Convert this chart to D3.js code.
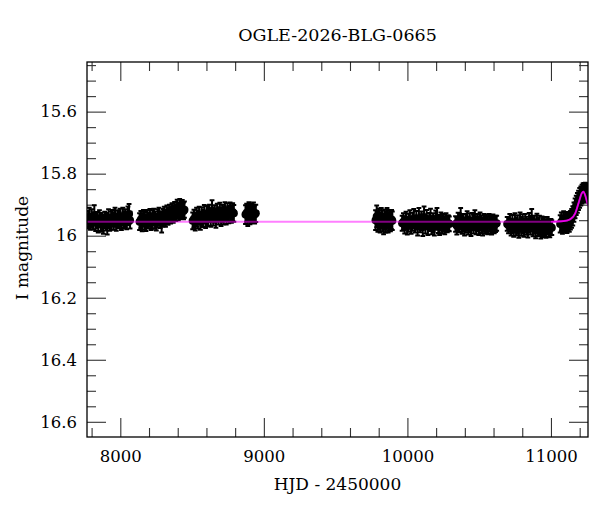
<!DOCTYPE html>
<html>
<head>
<meta charset="utf-8">
<script src="https://cdn.jsdelivr.net/npm/d3@7"></script>
<style>
  body { margin: 0; background: #fff; }
  text { font-family: "DejaVu Serif", serif; fill: #000; }
</style>
</head>
<body>
<div id="chart"></div>
<script>
// OGLE photometry, one array per observing season: [HJD - 2450000, I mag, error]
const season1 = [
  [7776, 15.948, 0.028], [7784, 15.940, 0.030], [7792, 15.955, 0.026], [7801, 15.944, 0.029],
  [7810, 15.952, 0.027], [7819, 15.934, 0.032], [7828, 15.958, 0.027], [7837, 15.950, 0.026],
  [7846, 15.962, 0.028], [7855, 15.945, 0.027], [7864, 15.956, 0.029], [7873, 15.960, 0.027],
  [7882, 15.964, 0.030], [7891, 15.949, 0.026], [7900, 15.955, 0.028], [7909, 15.966, 0.030],
  [7918, 15.942, 0.027], [7927, 15.958, 0.026], [7936, 15.951, 0.029], [7945, 15.944, 0.027],
  [7954, 15.953, 0.028], [7963, 15.940, 0.030], [7972, 15.957, 0.027], [7981, 15.946, 0.028],
  [7990, 15.950, 0.026], [7999, 15.942, 0.029], [8008, 15.955, 0.027], [8017, 15.938, 0.028],
  [8026, 15.948, 0.027], [8035, 15.944, 0.029], [8044, 15.952, 0.027], [8053, 15.936, 0.030],
  [8061, 15.930, 0.032], [8068, 15.950, 0.027]
];
const season2 = [
  [8134, 15.955, 0.027], [8143, 15.948, 0.028], [8152, 15.957, 0.029], [8161, 15.944, 0.027],
  [8170, 15.952, 0.028], [8179, 15.958, 0.027], [8188, 15.946, 0.029], [8197, 15.951, 0.026],
  [8206, 15.942, 0.028], [8215, 15.955, 0.027], [8224, 15.947, 0.029], [8233, 15.940, 0.027],
  [8242, 15.950, 0.028], [8251, 15.956, 0.027], [8260, 15.944, 0.029], [8269, 15.938, 0.028],
  [8278, 15.948, 0.027], [8288, 15.958, 0.032], [8297, 15.942, 0.028], [8306, 15.936, 0.029],
  [8315, 15.944, 0.027], [8324, 15.932, 0.029], [8333, 15.938, 0.027], [8342, 15.928, 0.028],
  [8351, 15.934, 0.027], [8360, 15.924, 0.029], [8369, 15.930, 0.028], [8378, 15.920, 0.029],
  [8387, 15.926, 0.027], [8396, 15.914, 0.030], [8405, 15.922, 0.028], [8414, 15.912, 0.030],
  [8423, 15.918, 0.028], [8432, 15.914, 0.029], [8441, 15.920, 0.027], [8447, 15.916, 0.026]
];
const season3 = [
  [8504, 15.952, 0.027], [8513, 15.945, 0.029], [8522, 15.955, 0.028], [8531, 15.940, 0.030],
  [8540, 15.948, 0.029], [8549, 15.935, 0.028], [8558, 15.952, 0.029], [8567, 15.938, 0.030],
  [8576, 15.944, 0.028], [8585, 15.930, 0.029], [8594, 15.947, 0.028], [8603, 15.934, 0.030],
  [8612, 15.940, 0.029], [8621, 15.928, 0.028], [8630, 15.942, 0.029], [8639, 15.920, 0.034],
  [8648, 15.938, 0.029], [8657, 15.930, 0.028], [8666, 15.944, 0.030], [8675, 15.926, 0.029],
  [8684, 15.936, 0.028], [8693, 15.924, 0.030], [8702, 15.940, 0.029], [8711, 15.928, 0.028],
  [8720, 15.934, 0.029], [8729, 15.922, 0.030], [8738, 15.936, 0.028], [8747, 15.924, 0.029],
  [8756, 15.932, 0.028], [8765, 15.922, 0.029], [8774, 15.930, 0.028], [8783, 15.924, 0.029],
  [8791, 15.928, 0.027]
];
const season4 = [
  [8872, 15.932, 0.030], [8880, 15.926, 0.029], [8888, 15.936, 0.033], [8896, 15.922, 0.030],
  [8904, 15.934, 0.029], [8912, 15.928, 0.030], [8920, 15.930, 0.029], [8928, 15.924, 0.031],
  [8936, 15.932, 0.029], [8944, 15.928, 0.028]
];
const season5 = [
  [9778, 15.950, 0.032], [9786, 15.938, 0.035], [9794, 15.955, 0.032], [9802, 15.946, 0.034],
  [9810, 15.958, 0.032], [9818, 15.944, 0.033], [9826, 15.952, 0.034], [9834, 15.962, 0.033],
  [9842, 15.948, 0.032], [9850, 15.956, 0.034], [9858, 15.944, 0.033], [9866, 15.958, 0.032],
  [9874, 15.950, 0.033], [9882, 15.954, 0.032], [9890, 15.948, 0.031], [9895, 15.952, 0.030]
];
const season6 = [
  [9963, 15.960, 0.024], [9972, 15.955, 0.027], [9981, 15.965, 0.028], [9990, 15.952, 0.029],
  [9999, 15.968, 0.028], [10008, 15.958, 0.029], [10017, 15.948, 0.030], [10026, 15.966, 0.028],
  [10035, 15.955, 0.029], [10044, 15.945, 0.031], [10053, 15.962, 0.028], [10062, 15.950, 0.030],
  [10071, 15.970, 0.029], [10080, 15.944, 0.033], [10089, 15.960, 0.029], [10098, 15.952, 0.030],
  [10107, 15.972, 0.029], [10116, 15.940, 0.034], [10125, 15.964, 0.029], [10134, 15.948, 0.031],
  [10143, 15.968, 0.030], [10152, 15.956, 0.029], [10161, 15.946, 0.033], [10170, 15.966, 0.029],
  [10179, 15.958, 0.030], [10188, 15.970, 0.029], [10197, 15.950, 0.031], [10206, 15.944, 0.033],
  [10215, 15.962, 0.029], [10224, 15.968, 0.030], [10233, 15.954, 0.029], [10242, 15.962, 0.030],
  [10251, 15.958, 0.028], [10260, 15.966, 0.029], [10269, 15.956, 0.028], [10278, 15.962, 0.027],
  [10287, 15.960, 0.025], [10292, 15.962, 0.024]
];
const season7 = [
  [10335, 15.962, 0.025], [10344, 15.968, 0.028], [10353, 15.955, 0.029], [10362, 15.958, 0.030],
  [10371, 15.945, 0.034], [10380, 15.965, 0.029], [10389, 15.958, 0.028], [10398, 15.970, 0.029],
  [10407, 15.960, 0.030], [10416, 15.952, 0.031], [10425, 15.967, 0.029], [10434, 15.958, 0.030],
  [10443, 15.972, 0.029], [10452, 15.955, 0.028], [10461, 15.962, 0.031], [10470, 15.950, 0.032],
  [10479, 15.966, 0.029], [10488, 15.958, 0.028], [10497, 15.968, 0.030], [10506, 15.954, 0.029],
  [10515, 15.963, 0.028], [10524, 15.970, 0.029], [10533, 15.958, 0.028], [10542, 15.965, 0.029],
  [10551, 15.960, 0.028], [10560, 15.966, 0.029], [10569, 15.958, 0.028], [10578, 15.964, 0.029],
  [10587, 15.968, 0.028], [10596, 15.960, 0.028], [10605, 15.965, 0.027], [10614, 15.962, 0.026],
  [10622, 15.960, 0.024]
];
const season8 = [
  [10695, 15.962, 0.022], [10704, 15.966, 0.026], [10713, 15.958, 0.028], [10722, 15.972, 0.027],
  [10731, 15.962, 0.029], [10740, 15.975, 0.028], [10749, 15.958, 0.030], [10758, 15.970, 0.029],
  [10767, 15.964, 0.030], [10776, 15.978, 0.029], [10785, 15.956, 0.031], [10794, 15.970, 0.030],
  [10803, 15.962, 0.031], [10812, 15.974, 0.029], [10821, 15.960, 0.030], [10830, 15.968, 0.029],
  [10839, 15.976, 0.030], [10848, 15.958, 0.031], [10857, 15.966, 0.030], [10866, 15.950, 0.036],
  [10875, 15.972, 0.030], [10884, 15.965, 0.029], [10893, 15.978, 0.030], [10902, 15.960, 0.031],
  [10911, 15.972, 0.029], [10920, 15.966, 0.030], [10929, 15.980, 0.029], [10938, 15.968, 0.030],
  [10947, 15.975, 0.029], [10956, 15.970, 0.030], [10965, 15.978, 0.029], [10974, 15.968, 0.028],
  [10983, 15.975, 0.029], [10992, 15.978, 0.027], [11000, 15.972, 0.026], [11006, 15.974, 0.024]
];
const season9 = [
  [11064, 15.962, 0.028], [11072, 15.955, 0.030], [11080, 15.965, 0.029], [11088, 15.952, 0.031],
  [11096, 15.960, 0.029], [11104, 15.956, 0.030], [11112, 15.962, 0.029], [11120, 15.954, 0.030],
  [11128, 15.958, 0.029], [11136, 15.950, 0.030], [11144, 15.944, 0.030], [11152, 15.936, 0.031],
  [11160, 15.924, 0.031], [11168, 15.912, 0.032], [11176, 15.902, 0.031], [11184, 15.894, 0.032],
  [11192, 15.886, 0.031], [11200, 15.878, 0.032], [11208, 15.872, 0.031], [11216, 15.866, 0.030],
  [11224, 15.862, 0.031], [11232, 15.860, 0.030], [11240, 15.860, 0.031], [11248, 15.862, 0.030],
  [11256, 15.864, 0.029]
];

// model light curve
const modelHjd = [7760, 11000, 11087, 11134, 11169, 11192, 11215, 11226, 11238, 11254, 11265];
const modelMag = [15.955, 15.955, 15.953, 15.947, 15.928, 15.895, 15.863, 15.858, 15.869, 15.895, 15.908];

// axis ticks
const xTickLabels = [8000, 9000, 10000, 11000];
const yTickLabels = [15.6, 15.8, 16, 16.2, 16.4, 16.6];

const title = "OGLE-2026-BLG-0665";

const margin = { top: 62, right: 12, bottom: 75, left: 87 },
      width = 600 - margin.left - margin.right,
      height = 512 - margin.top - margin.bottom;

const svg = d3.select("#chart").append("svg")
  .attr("width", width + margin.left + margin.right)
  .attr("height", height + margin.top + margin.bottom)
  .append("g")
  .attr("transform", `translate(${margin.left},${margin.top})`);

const x = d3.scaleLinear().domain([7768, 11258]).range([0, width]);
const y = d3.scaleLinear().domain([15.44, 16.649]).range([0, height]);

svg.append("clipPath").attr("id", "plot-clip")
  .append("rect").attr("width", width).attr("height", height);

// ticks (inward, on all four sides)
const xMinor = d3.range(39, 57).map(k => k * 200).filter(v => v % 1000 !== 0);
const yMinor = d3.range(309, 333).filter(k => k % 4 !== 0).map(k => +(k * 0.05).toFixed(2));

function styleAxis(g) {
  g.select(".domain").remove();
  g.selectAll(".tick line").attr("stroke", "#333").attr("stroke-width", 1.1);
  g.selectAll(".tick text").style("font-size", "16.5px").style("font-family", "DejaVu Serif, serif");
}

svg.append("g").attr("transform", `translate(0,${height})`)
  .call(d3.axisBottom(x).tickValues(xTickLabels).tickSize(-19).tickPadding(13).tickFormat(d3.format("d")))
  .call(styleAxis);
svg.append("g").attr("transform", `translate(0,${height})`)
  .call(d3.axisBottom(x).tickValues(xMinor).tickSize(-9).tickFormat(""))
  .call(styleAxis);
svg.append("g")
  .call(d3.axisTop(x).tickValues(xTickLabels).tickSize(-19).tickFormat(""))
  .call(styleAxis);
svg.append("g")
  .call(d3.axisTop(x).tickValues(xMinor).tickSize(-9).tickFormat(""))
  .call(styleAxis);

svg.append("g")
  .call(d3.axisLeft(y).tickValues(yTickLabels).tickSize(-19).tickPadding(10).tickFormat(d3.format("~g")))
  .call(styleAxis);
svg.append("g")
  .call(d3.axisLeft(y).tickValues(yMinor).tickSize(-9).tickFormat(""))
  .call(styleAxis);
svg.append("g").attr("transform", `translate(${width},0)`)
  .call(d3.axisRight(y).tickValues(yTickLabels).tickSize(-19).tickFormat(""))
  .call(styleAxis);
svg.append("g").attr("transform", `translate(${width},0)`)
  .call(d3.axisRight(y).tickValues(yMinor).tickSize(-9).tickFormat(""))
  .call(styleAxis);

// data with error bars
const seasons = [season1, season2, season3, season4, season5, season6, season7, season8, season9];
const points = seasons.flat().map(([t, m, e]) => ({ t, m, e }));

const pts = svg.append("g").attr("clip-path", "url(#plot-clip)");
const cap = 2.4;

pts.selectAll("path.err")
  .data(points)
  .enter()
  .append("path")
  .attr("class", "err")
  .attr("d", d => {
    const cx = x(d.t), y0 = y(d.m - d.e), y1 = y(d.m + d.e);
    return `M${cx},${y0}V${y1}M${cx - cap},${y0}H${cx + cap}M${cx - cap},${y1}H${cx + cap}`;
  })
  .attr("fill", "none")
  .attr("stroke", "#000")
  .attr("stroke-width", 2);

pts.selectAll("circle")
  .data(points)
  .enter()
  .append("circle")
  .attr("cx", d => x(d.t))
  .attr("cy", d => y(d.m))
  .attr("r", 4)
  .attr("fill", "#000");

// model curve
const model = modelHjd.map((t, i) => ({ t, m: modelMag[i] }));
const line = d3.line().x(d => x(d.t)).y(d => y(d.m)).curve(d3.curveMonotoneX);

pts.append("path")
  .datum(model)
  .attr("d", line)
  .attr("fill", "none")
  .attr("stroke", "#ff00ff")
  .attr("stroke-opacity", 0.5)
  .attr("stroke-width", 2);

pts.append("path")
  .datum(model.filter(d => d.t >= 11000))
  .attr("d", line)
  .attr("fill", "none")
  .attr("stroke", "#e600e6")
  .attr("stroke-width", 1.6);

// frame
svg.append("rect")
  .attr("width", width)
  .attr("height", height)
  .attr("fill", "none")
  .attr("stroke", "#000")
  .attr("stroke-width", 1.3);

// Title
svg.append("text")
  .attr("x", width / 2)
  .attr("y", 40.5 - margin.top)
  .attr("text-anchor", "middle")
  .style("font-size", "17.5px")
  .text(title);

// Label X
svg.append("text")
  .attr("x", width / 2)
  .attr("y", 490 - margin.top)
  .attr("text-anchor", "middle")
  .style("font-size", "17px")
  .text("HJD - 2450000");

// Label Y
svg.append("text")
  .attr("x", -(248 - margin.top))
  .attr("y", 28 - margin.left)
  .attr("transform", "rotate(-90)")
  .attr("text-anchor", "middle")
  .style("font-size", "17px")
  .text("I magnitude");
</script>
</body>
</html>
